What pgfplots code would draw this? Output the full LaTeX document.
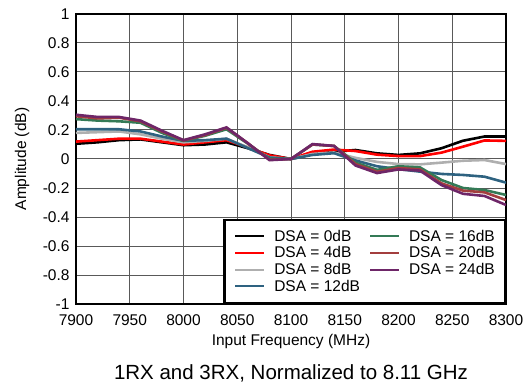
\documentclass[border=0pt]{standalone}
\usepackage{fontspec}
\setmainfont{Liberation Sans}
\usepackage{pgfplots}
\pgfplotsset{compat=1.18}

\definecolor{c0}{RGB}{0,0,0}
\definecolor{c4}{RGB}{255,0,0}
\definecolor{c8}{RGB}{175,175,175}
\definecolor{c12}{RGB}{46,98,128}
\definecolor{c16}{RGB}{52,122,86}
\definecolor{c20}{RGB}{163,62,62}
\definecolor{c24}{RGB}{110,38,104}

\begin{document}
\begin{tikzpicture}
\path[use as bounding box] (-76bp,-80bp) rectangle (453bp,304bp);
\begin{axis}[
  at={(0,0)}, anchor=south west,
  scale only axis, width=430bp, height=290bp,
  xmin=7900, xmax=8300, ymin=-1, ymax=1,
  xtick={7900,7950,8000,8050,8100,8150,8200,8250,8300},
  xticklabels={7900,7950,8000,8050,8100,8150,8200,8250,8300},
  ytick={-1,-0.8,-0.6,-0.4,-0.2,0,0.2,0.4,0.6,0.8,1},
  yticklabels={-1,-0.8,-0.6,-0.4,-0.2,0,0.2,0.4,0.6,0.8,1},
  grid=major, major grid style={line width=1bp, black!65},
  major tick length=0pt,
  axis line style={line width=2.5bp},
  tick label style={font=\fontsize{15.5bp}{18bp}\selectfont},
  xticklabel style={yshift=-7bp},
  yticklabel style={xshift=-3bp},
  xlabel={Input Frequency (MHz)}, ylabel={Amplitude (dB)},
  label style={font=\fontsize{15.5bp}{18bp}\selectfont},
  xlabel style={at={(axis description cs:0.5,-0.131)}, anchor=center},
  ylabel style={at={(axis description cs:-0.1256,0.5)}, anchor=center},
  every axis title shift=0pt,
  title={1RX and 3RX, Normalized to 8.11 GHz},
  title style={at={(axis description cs:0.5,-0.24)}, anchor=center, font=\fontsize{20.5bp}{24bp}\selectfont},
  legend columns=2,
  legend cell align=left,
  legend style={at={(1,0)}, anchor=south east, draw=black, line width=2.5bp,
    inner xsep=10bp, inner ysep=8bp, column sep=9bp, row sep=0pt,
    nodes={inner xsep=0pt, inner ysep=2bp},
    font=\fontsize{15.5bp}{18bp}\selectfont},
  legend image code/.code={\draw[#1, line width=2bp] (0bp,0bp) -- (29bp,0bp);},
]
\addplot[c0, line width=2.6bp, forget plot] coordinates {
(7900,0.105)(7920,0.115)(7940,0.13)(7960,0.135)(7980,0.115)(8000,0.095)(8020,0.10)(8040,0.115)(8060,0.074)(8080,0.028)(8100,0)
(8120,0.034)(8140,0.05)(8160,0.062)(8180,0.039)(8200,0.028)(8220,0.039)(8240,0.074)(8260,0.126)(8280,0.155)(8300,0.155)};
\addplot[c4, line width=2.6bp, forget plot] coordinates {
(7900,0.12)(7920,0.13)(7940,0.14)(7960,0.14)(7980,0.12)(8000,0.10)(8020,0.115)(8040,0.13)(8060,0.08)(8080,0.025)(8100,0)
(8120,0.05)(8140,0.065)(8160,0.055)(8180,0.03)(8200,0.02)(8220,0.02)(8240,0.044)(8260,0.085)(8280,0.128)(8300,0.125)};
\addplot[c8, line width=2.6bp, forget plot] coordinates {
(7900,0.18)(7920,0.185)(7940,0.19)(7960,0.17)(7980,0.14)(8000,0.115)(8020,0.125)(8040,0.14)(8060,0.08)(8080,0.012)(8100,0)
(8120,0.035)(8140,0.045)(8160,0.008)(8180,-0.02)(8200,-0.035)(8220,-0.037)(8240,-0.025)(8260,-0.012)(8280,-0.007)(8300,-0.035)};
\addplot[c12, line width=2.6bp, forget plot] coordinates {
(7900,0.205)(7920,0.205)(7940,0.205)(7960,0.19)(7980,0.155)(8000,0.125)(8020,0.13)(8040,0.14)(8060,0.075)(8080,0.01)(8100,0)
(8120,0.028)(8140,0.04)(8160,-0.01)(8180,-0.05)(8200,-0.07)(8220,-0.087)(8240,-0.103)(8260,-0.11)(8280,-0.122)(8300,-0.163)};
\addplot[c16, line width=2.6bp, forget plot] coordinates {
(7900,0.275)(7920,0.265)(7940,0.26)(7960,0.25)(7980,0.18)(8000,0.125)(8020,0.16)(8040,0.205)(8060,0.105)(8080,0.0)(8100,0)
(8120,0.1)(8140,0.09)(8160,-0.025)(8180,-0.075)(8200,-0.05)(8220,-0.058)(8240,-0.145)(8260,-0.2)(8280,-0.214)(8300,-0.248)};
\addplot[c20, line width=2.6bp, forget plot] coordinates {
(7900,0.295)(7920,0.28)(7940,0.285)(7960,0.26)(7980,0.19)(8000,0.128)(8020,0.165)(8040,0.215)(8060,0.108)(8080,-0.005)(8100,0)
(8120,0.1)(8140,0.09)(8160,-0.035)(8180,-0.088)(8200,-0.062)(8220,-0.072)(8240,-0.168)(8260,-0.218)(8280,-0.23)(8300,-0.283)};
\addplot[c24, line width=2.6bp, forget plot] coordinates {
(7900,0.305)(7920,0.29)(7940,0.29)(7960,0.265)(7980,0.195)(8000,0.13)(8020,0.17)(8040,0.218)(8060,0.108)(8080,-0.008)(8100,0)
(8120,0.103)(8140,0.09)(8160,-0.045)(8180,-0.097)(8200,-0.072)(8220,-0.08)(8240,-0.18)(8260,-0.24)(8280,-0.255)(8300,-0.317)};
\addlegendimage{c0}\addlegendentry{DSA = 0dB}
\addlegendimage{c16}\addlegendentry{DSA = 16dB}
\addlegendimage{c4}\addlegendentry{DSA = 4dB}
\addlegendimage{c20}\addlegendentry{DSA = 20dB}
\addlegendimage{c8}\addlegendentry{DSA = 8dB}
\addlegendimage{c24}\addlegendentry{DSA = 24dB}
\addlegendimage{c12}\addlegendentry{DSA = 12dB}
\end{axis}
\end{tikzpicture}
\end{document}
